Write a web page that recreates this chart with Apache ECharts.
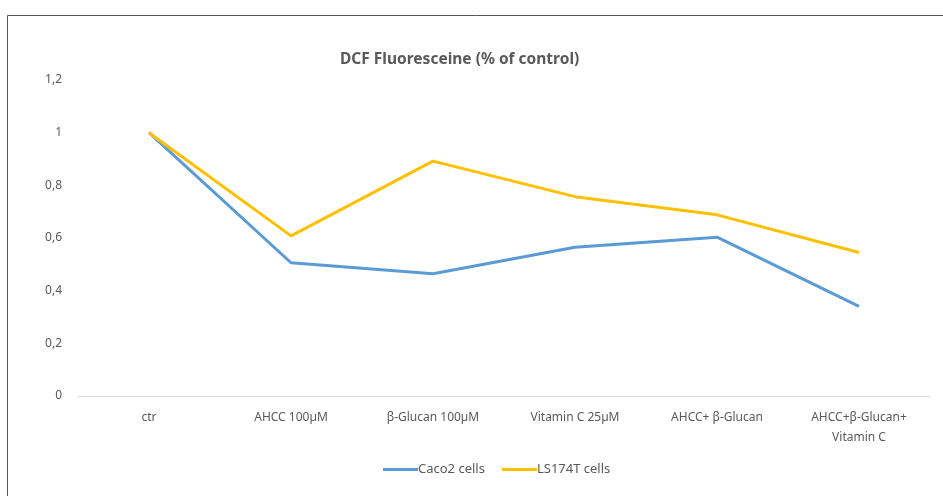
<!DOCTYPE html>
<html>
<head>
    <meta charset="utf-8">
    <title>DCF Fluoresceine</title>
    <script src="https://cdn.jsdelivr.net/npm/echarts@6/dist/echarts.min.js"></script>
    <style>
        html, body { margin: 0; padding: 0; background: #ffffff; }
        #chart { width: 943px; height: 496px; }
    </style>
</head>
<body>
<div id="chart"></div>
<script>
    // 数据
    var categories = ['ctr', 'AHCC 100µM', 'β-Glucan 100µM', 'Vitamin C 25µM', 'AHCC+ β-Glucan', 'AHCC+β-Glucan+\nVitamin C'];
    var caco2 = [1.0, 0.506, 0.464, 0.565, 0.603, 0.34];
    var ls174t = [1.0, 0.608, 0.892, 0.757, 0.688, 0.545];
    var yTicks = [0, 0.2, 0.4, 0.6, 0.8, 1, 1.2];

    var font = '"Noto Sans", "Open Sans", sans-serif';
    var chart = echarts.init(document.getElementById('chart'));
    var option = {
        animation: false,
        title: {
            text: 'DCF Fluoresceine (% of control)',
            left: 335,
            top: 47,
            textStyle: { fontFamily: font, fontSize: 15.5, fontWeight: 'bold', color: '#595959' }
        },
        graphic: [{
            type: 'rect',
            shape: { x: 7.5, y: 15.5, width: 1000, height: 600 },
            style: { fill: 'none', stroke: '#555555', lineWidth: 1 },
            silent: true
        }],
        legend: {
            top: 458,
            left: 378,
            icon: 'rect',
            itemWidth: 35,
            itemHeight: 3,
            itemGap: 17,
            textStyle: { fontFamily: font, fontSize: 13, color: '#595959', padding: [0, 0, 0, -5] },
            data: ['Caco2 cells', 'LS174T cells']
        },
        grid: { left: 78, right: 13, top: 80, bottom: 100, containLabel: false },
        xAxis: {
            type: 'category',
            data: categories,
            boundaryGap: true,
            axisLine: { lineStyle: { color: '#d9d9d9' } },
            axisTick: { show: false },
            axisLabel: { fontFamily: font, fontSize: 12, color: '#595959', margin: 12, lineHeight: 20, interval: 0 }
        },
        yAxis: {
            type: 'value',
            min: 0,
            max: 1.2,
            interval: 0.2,
            splitLine: { show: false },
            axisLine: { show: false },
            axisTick: { show: false },
            axisLabel: {
                fontFamily: font, fontSize: 12, color: '#595959', margin: 16,
                formatter: function (v) {
                    var t = yTicks.find(function (k) { return Math.abs(k - v) < 1e-6; });
                    return String(t !== undefined ? t : v).replace('.', ',');
                }
            }
        },
        series: [
            {
                name: 'Caco2 cells',
                type: 'line',
                data: caco2,
                symbol: 'none',
                lineStyle: { width: 3, color: '#5B9BD5' },
                itemStyle: { color: '#5B9BD5' }
            },
            {
                name: 'LS174T cells',
                type: 'line',
                data: ls174t,
                symbol: 'none',
                lineStyle: { width: 3, color: '#FFC000' },
                itemStyle: { color: '#FFC000' }
            }
        ]
    };
    chart.setOption(option);
</script>
</body>
</html>
